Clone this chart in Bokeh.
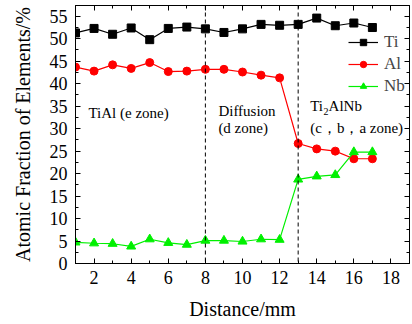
from bokeh.plotting import figure
from bokeh.models import (Span, Label, LinearAxis, Legend, LegendItem,
                          SingleIntervalTicker, Range1d, CustomLabelingPolicy)
from bokeh.embed import file_html
from bokeh.resources import INLINE

# ---- data ----
distance = list(range(1, 18))
ti = [51.3, 52.3, 51.0, 52.4, 49.8, 52.3, 52.6, 52.2, 51.4, 52.2, 53.2, 53.0, 53.2, 54.6, 52.9, 53.5, 52.5]
al = [43.7, 42.8, 44.2, 43.4, 44.7, 42.7, 42.8, 43.2, 43.2, 42.6, 41.9, 41.3, 26.7, 25.5, 25.0, 23.3, 23.3]
nb = [4.7, 4.5, 4.4, 3.8, 5.4, 4.6, 4.2, 5.1, 5.1, 4.9, 5.4, 5.3, 18.7, 19.4, 19.7, 24.8, 24.8]
zone_bounds = [8, 13]
x_ticks = [2, 4, 6, 8, 10, 12, 14, 16, 18]
y_ticks = [0, 5, 10, 15, 20, 25, 30, 35, 40, 45, 50, 55]

FONT = "Liberation Serif"
GREEN = "#00f000"

p = figure(width=412, height=324, output_backend="svg", toolbar_location=None,
           x_range=Range1d(1, 19), y_range=Range1d(0, 57.4),
           min_border_left=75, min_border_right=3, min_border_top=5, min_border_bottom=61)
p.grid.visible = False
p.outline_line_color = "black"
p.outline_line_width = 1
p.background_fill_color = "white"
p.border_fill_color = "white"

# axes
xa = p.xaxis[0]
ya = p.yaxis[0]
xa.ticker = SingleIntervalTicker(interval=2, num_minor_ticks=2)
ya.ticker = SingleIntervalTicker(interval=5, num_minor_ticks=2)
for ax in (xa, ya):
    ax.major_tick_in = 5
    ax.major_tick_out = 0
    ax.minor_tick_in = 3
    ax.minor_tick_out = 0
    ax.axis_line_color = "black"
    ax.major_tick_line_color = "black"
    ax.minor_tick_line_color = "black"
    ax.major_label_text_font = FONT
    ax.major_label_text_font_size = "18px"
    ax.major_label_text_color = "black"
    ax.axis_label_text_font = FONT
    ax.axis_label_text_font_size = "20px"
    ax.axis_label_text_font_style = "normal"
    ax.axis_label_text_color = "black"
xa.axis_label = "Distance/mm"
ya.axis_label = "Atomic Fraction of Elements/%"
xa.major_label_standoff = 7
ya.major_label_standoff = 8
xa.axis_label_standoff = 11
ya.axis_label_standoff = 13

# mirrored axes (top, right) with inward ticks, no labels
top = LinearAxis(ticker=SingleIntervalTicker(interval=2, num_minor_ticks=2))
right = LinearAxis(ticker=SingleIntervalTicker(interval=5, num_minor_ticks=2))
for ax in (top, right):
    ax.major_tick_in = 5
    ax.major_tick_out = 0
    ax.minor_tick_in = 3
    ax.minor_tick_out = 0
    ax.major_label_text_font_size = "0px"
    ax.major_label_policy = CustomLabelingPolicy(code="return []")
    ax.major_label_standoff = 0
    ax.axis_line_color = "black"
p.add_layout(top, "above")
p.add_layout(right, "right")

# zone boundaries
for b in zone_bounds:
    p.add_layout(Span(location=b, dimension="height", line_color="black",
                      line_dash="4 3", line_width=1))

# series
l_ti = p.line(distance, ti, line_color="black", line_width=1.2)
m_ti = p.scatter(distance, ti, marker="square", size=8, color="black")
l_al = p.line(distance, al, line_color="red", line_width=1.2)
m_al = p.scatter(distance, al, marker="circle", size=8, color="red")
l_nb = p.line(distance, nb, line_color=GREEN, line_width=1.2)
m_nb = p.scatter(distance, nb, marker="triangle", size=9, color=GREEN)

legend = Legend(items=[LegendItem(label="Ti", renderers=[l_ti, m_ti]),
                       LegendItem(label="Al", renderers=[l_al, m_al]),
                       LegendItem(label="Nb", renderers=[l_nb, m_nb])],
                location=(273, 167), border_line_color=None,
                background_fill_alpha=0, label_text_font=FONT,
                label_text_font_size="17px", glyph_width=30, glyph_height=16,
                label_standoff=6, spacing=2, padding=4, margin=0)
p.add_layout(legend)

# zone annotations
ann = dict(text_font=FONT, text_font_size="15px", text_color="black",
           text_baseline="middle")
p.add_layout(Label(x=1.7, y=33.4, text="TiAl (e zone)", **ann))
p.add_layout(Label(x=8.7, y=33.9, text="Diffusion", **ann))
p.add_layout(Label(x=8.7, y=30.2, text="(d zone)", **ann))
p.add_layout(Label(x=13.65, y=35.0, text="Ti", **ann))
p.add_layout(Label(x=14.37, y=33.9, text="2", text_font=FONT, text_font_size="10px",
                   text_color="black", text_baseline="middle"))
p.add_layout(Label(x=14.64, y=35.0, text="AlNb", **ann))
p.add_layout(Label(x=13.65, y=30.2, text="(c，b，a zone)", **ann))

open("out.html", "w").write(file_html(p, INLINE))
